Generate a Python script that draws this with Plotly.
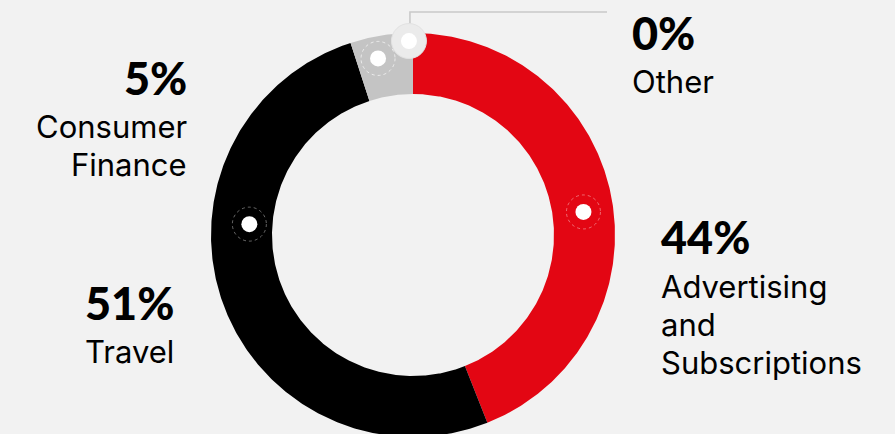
import numpy as np
import plotly.graph_objects as go

# Revenue mix by segment (percent of total)
categories = ["Advertising and Subscriptions", "Travel", "Consumer Finance", "Other"]
shares = [44, 51, 5, 0]
label_lines = [["Advertising", "and", "Subscriptions"], ["Travel"], ["Consumer", "Finance"], ["Other"]]

# Styling
BG = "#f2f2f2"
slice_colors = ["#e30613", "#000000", "#c4c4c4", "#c4c4c4"]
W, H = 895, 434
CX, CY = 413, 235          # donut centre in pixel units
R_OUT, R_IN = 202, 141     # outer / inner radius
PCT_FONT = "Lato"
LBL_FONT = "Inter"
PCT_SIZE = 45
LBL_SIZE = 31
LINE_STEP = 38             # spacing between label lines

# Callout dot placement (angle clockwise from 12 o'clock, distance from centre)
callouts = {
    "Advertising and Subscriptions": (82.3, 172),
    "Travel": (273.8, 164),
    "Consumer Finance": (348.8, 180),
    "Other": (-1.2, 194),
}
# Text placement: x anchor, alignment, top of percentage, top of first label line
text_pos = {
    "Advertising and Subscriptions": (659, "left", 208, 266),
    "Travel": (176, "right", 274, 331),
    "Consumer Finance": (189, "right", 49, 106),
    "Other": (630, "left", 4, 61),
}


def polar(deg, rad):
    t = np.radians(deg)
    return CX + rad * np.sin(t), CY - rad * np.cos(t)


fig = go.Figure()

total = float(sum(shares))
start = 0.0
for cat, val, col in zip(categories, shares, slice_colors):
    a0 = start / total * 360
    a1 = (start + val) / total * 360
    start += val
    if val <= 0:
        continue
    n = max(int((a1 - a0) * 2), 8)
    angs = np.linspace(a0, a1, n)
    ox, oy = polar(angs, R_OUT)
    ix, iy = polar(angs[::-1], R_IN)
    xs = np.concatenate([ox, ix, ox[:1]])
    ys = np.concatenate([oy, iy, oy[:1]])
    fig.add_trace(go.Scatter(x=xs, y=ys, mode="lines", fill="toself",
                             fillcolor=col, line=dict(width=0, color=col),
                             hoverinfo="skip", showlegend=False))

shapes = []
# Leader line for the "Other" callout
ox0, oy0 = polar(*callouts["Other"])
fig.add_trace(go.Scatter(x=[ox0 + 1, ox0 + 1, 607], y=[oy0, 12, 12], mode="lines",
                         line=dict(color="#c9c9c9", width=1.6),
                         hoverinfo="skip", showlegend=False))

for cat, val in zip(categories, shares):
    mx, my = polar(*callouts[cat])
    if val > 0:
        ring_col = "rgba(255,255,255,0.4)" if cat != "Consumer Finance" else "rgba(255,255,255,0.65)"
        shapes.append(dict(type="circle", xref="x", yref="y",
                           x0=mx - 17, x1=mx + 17, y0=my - 17, y1=my + 17,
                           line=dict(color=ring_col, width=1, dash="dot")))
    else:
        fig.add_trace(go.Scatter(x=[mx], y=[my], mode="markers",
                                 marker=dict(size=35, color="#ebebeb",
                                             line=dict(width=1, color="#e2e2e2")),
                                 hoverinfo="skip", showlegend=False))
    fig.add_trace(go.Scatter(x=[mx], y=[my], mode="markers",
                             marker=dict(size=16, color="#ffffff", line=dict(width=0)),
                             hoverinfo="skip", showlegend=False))

annotations = []
for cat, val, lines in zip(categories, shares, label_lines):
    x, align, ptop, ltop = text_pos[cat]
    annotations.append(dict(x=x, y=ptop, xref="x", yref="y", xanchor=align, yanchor="top",
                            text=f"{val}%", showarrow=False, align=align,
                            font=dict(family=PCT_FONT, size=PCT_SIZE, color="#000", weight=900)))
    for i, line in enumerate(lines):
        annotations.append(dict(x=x, y=ltop + i * LINE_STEP, xref="x", yref="y",
                                xanchor=align, yanchor="top", text=line,
                                showarrow=False, align=align,
                                font=dict(family=LBL_FONT, size=LBL_SIZE, color="#000")))

fig.update_layout(
    width=W, height=H,
    margin=dict(l=0, r=0, t=0, b=0),
    paper_bgcolor=BG, plot_bgcolor=BG,
    xaxis=dict(range=[0, W], visible=False, fixedrange=True),
    yaxis=dict(range=[H, 0], visible=False, fixedrange=True),
    shapes=shapes,
    annotations=annotations,
    showlegend=False,
)

fig.write_html("out.html", config={"displayModeBar": False})
